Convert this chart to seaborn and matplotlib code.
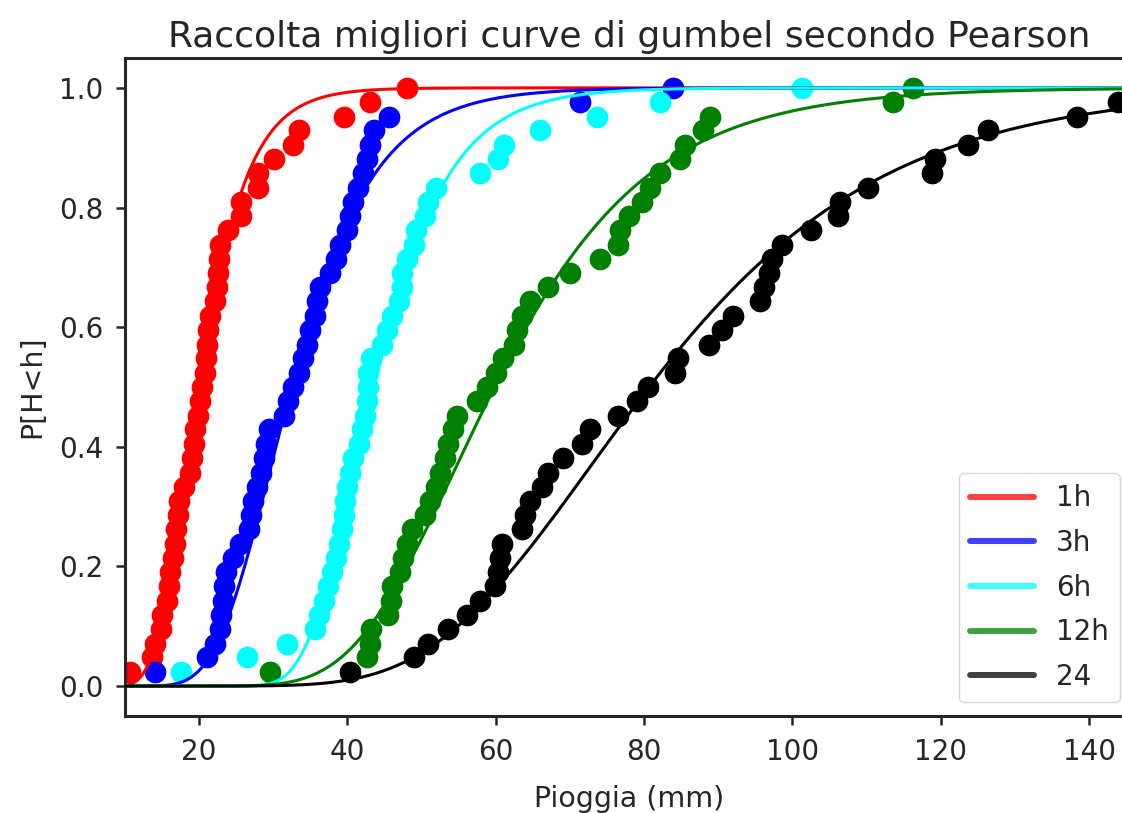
import numpy as np
import pandas as pd
import matplotlib
matplotlib.use("Agg")
import matplotlib.pyplot as plt
from matplotlib.lines import Line2D
import seaborn as sns

# durate e colori
durate = ["1h", "3h", "6h", "12h", "24"]
colori = ["#ff0000", "#0000ff", "#00ffff", "#008000", "#000000"]

# frequenza cumulata empirica (posizioni di plotting, n = 42)
freq = [0.024, 0.048, 0.071, 0.095, 0.119, 0.143, 0.167, 0.190, 0.214, 0.238,
        0.262, 0.286, 0.310, 0.333, 0.357, 0.381, 0.405, 0.429, 0.452, 0.476,
        0.500, 0.524, 0.548, 0.571, 0.595, 0.619, 0.643, 0.667, 0.690, 0.714,
        0.738, 0.762, 0.786, 0.810, 0.833, 0.857, 0.881, 0.905, 0.929, 0.952,
        0.976, 1.000]

# piogge massime ordinate (mm)
h_1h = [10.7, 13.6, 14.0, 14.8, 15.0, 15.6, 15.9, 16.1, 16.5, 16.7,
        16.9, 17.1, 17.3, 18.0, 18.8, 19.0, 19.3, 19.5, 19.8, 20.1,
        20.4, 20.8, 20.9, 21.0, 21.2, 21.5, 22.1, 22.4, 22.6, 22.7,
        22.8, 23.9, 25.6, 25.7, 27.9, 28.0, 30.1, 32.7, 33.5, 39.5,
        43.1, 48.0]
h_3h = [14.0, 21.0, 22.2, 22.8, 23.0, 23.2, 23.4, 23.6, 24.5, 25.5,
        26.7, 27.0, 27.3, 27.8, 28.3, 28.7, 29.0, 29.4, 31.5, 32.0,
        32.6, 33.4, 34.0, 34.5, 34.9, 35.6, 35.9, 36.3, 37.6, 38.5,
        39.0, 39.9, 40.3, 40.8, 41.4, 42.1, 42.6, 43.0, 43.6, 45.6,
        71.3, 83.9]
h_6h = [17.6, 26.4, 31.8, 35.6, 36.2, 36.8, 37.4, 37.9, 38.4, 38.8,
        39.2, 39.5, 39.7, 39.9, 40.4, 40.8, 41.5, 42.0, 42.3, 42.6,
        42.7, 42.8, 43.2, 44.6, 45.3, 46.0, 47.0, 47.3, 47.4, 48.0,
        48.9, 49.3, 50.5, 50.9, 52.0, 57.9, 60.3, 61.1, 66.0, 73.6,
        82.2, 101.3]
h_12h = [29.6, 42.6, 43.0, 43.2, 45.5, 45.8, 46.0, 47.1, 47.5, 48.0,
         48.7, 50.5, 51.1, 52.0, 52.5, 53.2, 53.6, 54.2, 54.8, 57.4,
         58.8, 60.0, 61.0, 62.4, 62.8, 63.5, 64.6, 67.1, 70.0, 74.1,
         76.5, 76.8, 78.0, 79.7, 80.8, 82.2, 84.8, 85.5, 88.0, 88.9,
         113.6, 116.3]
h_24h = [40.3, 48.9, 50.9, 53.6, 56.1, 57.9, 59.9, 60.3, 60.5, 60.8,
         63.5, 63.9, 64.6, 66.2, 67.1, 69.1, 71.6, 72.7, 76.5, 79.0,
         80.5, 84.2, 84.6, 88.7, 90.5, 92.0, 95.6, 96.1, 96.8, 97.2,
         98.6, 102.5, 106.2, 106.4, 110.2, 118.8, 119.2, 123.7, 126.4, 138.3,
         143.9, 152.0]

# parametri delle curve di Gumbel scelte (u = moda, alfa = scala)
u_gumbel = [18.4, 29.7, 41.1, 54.7, 72.8]
alfa_gumbel = [4.4, 7.5, 6.8, 14.0, 21.5]

piogge = [h_1h, h_3h, h_6h, h_12h, h_24h]

punti = pd.concat([pd.DataFrame({"h": p, "F": freq, "durata": d})
                   for p, d in zip(piogge, durate)], ignore_index=True)

xx = np.linspace(10, 150, 600)
curve = pd.concat([pd.DataFrame({"h": xx,
                                 "F": np.exp(-np.exp(-(xx - u) / a)),
                                 "durata": d})
                   for u, a, d in zip(u_gumbel, alfa_gumbel, durate)],
                  ignore_index=True)

sns.set_style("ticks")
plt.rcParams["font.family"] = ["DejaVu Sans"]

fig = plt.figure(figsize=(11.22, 8.13), dpi=100)
# the right edge of the axes falls just outside the picture, as in the original crop
ax = fig.add_axes([0.1114, 0.1193, 0.899, 0.8094])

for d, c in zip(durate, colori):
    sns.scatterplot(data=punti[punti.durata == d], x="h", y="F", color=c,
                    s=245, linewidth=0, ax=ax, legend=False, zorder=2)
    sns.lineplot(data=curve[curve.durata == d], x="h", y="F", color=c,
                 linewidth=2.2, estimator=None, ax=ax, legend=False, zorder=3)

ax.set_xlim(10, 146)
ax.set_ylim(-0.05, 1.05)
ax.set_title("Raccolta migliori curve di gumbel secondo Pearson", fontsize=26, pad=8)
ax.set_xlabel("Pioggia (mm)", fontsize=20.5, labelpad=14)
ax.set_ylabel("P[H<h]", fontsize=20.5, labelpad=9)
ax.tick_params(labelsize=20, length=6.5, width=1.8, pad=9)
for sp in ax.spines.values():
    sp.set_linewidth(2.2)

handles = [Line2D([0], [0], color=c, lw=4.3, alpha=0.75) for c in colori]
ax.legend(handles, durate, loc="lower right", fontsize=20, frameon=True,
          labelspacing=0.6, handlelength=2.3)

fig.savefig("out.png", dpi=100)
